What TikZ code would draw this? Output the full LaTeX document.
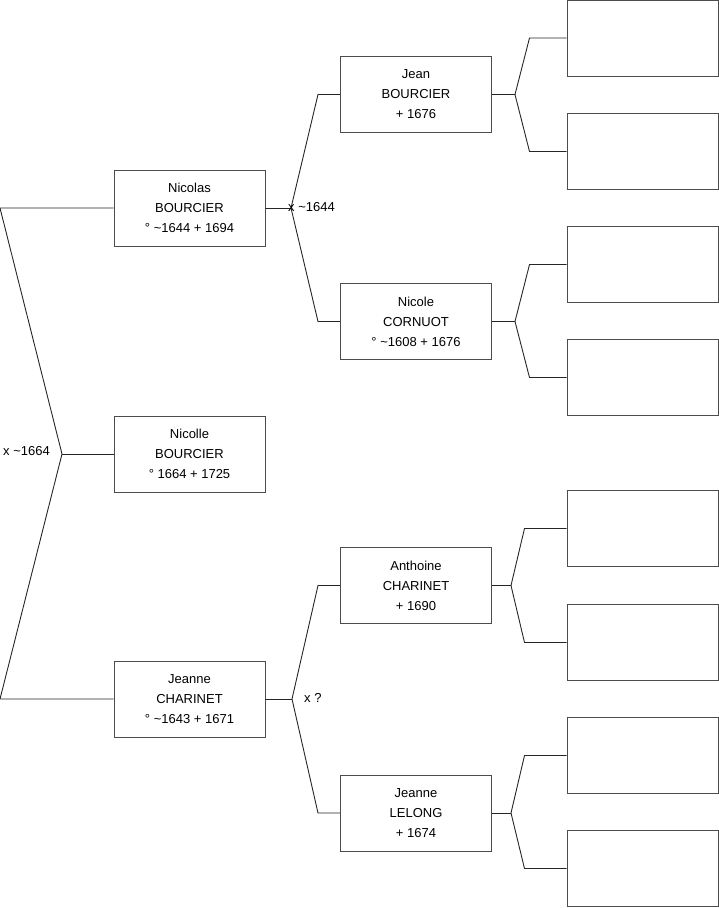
\documentclass[tikz,border=0pt]{standalone}
\usepackage{fontspec}
\setmainfont{Liberation Sans}
\begin{document}
\begin{tikzpicture}[x=1pt,y=-1pt,
  person/.style={draw=black!70, line width=0.9pt, minimum width=151pt, minimum height=76pt, inner sep=0pt, align=center, font=\fontsize{13}{20}\selectfont},
  empty/.style={draw=black!70, line width=0.9pt, minimum width=151pt, minimum height=76pt, inner sep=0pt},
  link/.style={draw=black!85, line width=0.9pt},
  lbl/.style={inner sep=0pt, font=\fontsize{13}{15}\selectfont}]
\useasboundingbox (0,0) rectangle (719,908);
% generation 1 and 2
\node[person] (nicolas) at (189.5,208) {Nicolas\\BOURCIER\\° \textasciitilde1644 + 1694};
\node[person] (nicolle) at (189.5,454) {Nicolle\\BOURCIER\\° 1664 + 1725};
\node[person] (jeannec) at (189.5,699) {Jeanne\\CHARINET\\° \textasciitilde1643 + 1671};
\node[person] (jean) at (416,94.5) {Jean\\BOURCIER\\+ 1676};
\node[person] (nicole) at (416,321.5) {Nicole\\CORNUOT\\° \textasciitilde1608 + 1676};
\node[person] (anthoine) at (416,585.5) {Anthoine\\CHARINET\\+ 1690};
\node[person] (jeannel) at (416,813) {Jeanne\\LELONG\\+ 1674};
% empty boxes
\node[empty] (e1) at (642.5,38) {};
\node[empty] (e2) at (642.5,151.5) {};
\node[empty] (e3) at (642.5,264.5) {};
\node[empty] (e4) at (642.5,377.5) {};
\node[empty] (e5) at (642.5,528.5) {};
\node[empty] (e6) at (642.5,642.5) {};
\node[empty] (e7) at (642.5,755.5) {};
\node[empty] (e8) at (642.5,868.5) {};
% left bracket
\coordinate (l0t) at (0,208);
\coordinate (j0) at (62,454);
\coordinate (l0b) at (0,699);
\draw[link] (nicolas.west) -- (l0t) -- (j0) -- (l0b) -- (jeannec.west);
\draw[link] (j0) -- (nicolle.west);
\node[lbl, anchor=east] (m0) at (50,451) {x \textasciitilde1664};
% Nicolas parents
\coordinate (j1) at (291,208);
\coordinate (j1t) at (318,94.5);
\coordinate (j1b) at (318,321.5);
\draw[link] (nicolas.east) -- (j1);
\draw[link] (jean.west) -- (j1t) -- (j1) -- (j1b) -- (nicole.west);
\node[lbl, anchor=west] (m1) at (288,207) {x \textasciitilde1644};
% Jeanne C parents
\coordinate (j2) at (292,699);
\coordinate (j2t) at (318,585.5);
\coordinate (j2b) at (318,813);
\draw[link] (jeannec.east) -- (j2);
\draw[link] (anthoine.west) -- (j2t) -- (j2) -- (j2b) -- (jeannel.west);
\node[lbl, anchor=west] (m2) at (304,698) {x ?};
% Jean parents
\coordinate (j3) at (515,94.5);
\draw[link] (jean.east) -- (j3);
\draw[link] (e1.west) -- (529.5,38) -- (j3) -- (529.5,151.5) -- (e2.west);
% Nicole parents
\coordinate (j4) at (515,321.5);
\draw[link] (nicole.east) -- (j4);
\draw[link] (e3.west) -- (529.5,264.5) -- (j4) -- (529.5,377.5) -- (e4.west);
% Anthoine parents
\coordinate (j5) at (511,585.5);
\draw[link] (anthoine.east) -- (j5);
\draw[link] (e5.west) -- (524.5,528.5) -- (j5) -- (524.5,642.5) -- (e6.west);
% Jeanne L parents
\coordinate (j6) at (511,813);
\draw[link] (jeannel.east) -- (j6);
\draw[link] (e7.west) -- (524.5,755.5) -- (j6) -- (524.5,868.5) -- (e8.west);
\end{tikzpicture}
\end{document}
